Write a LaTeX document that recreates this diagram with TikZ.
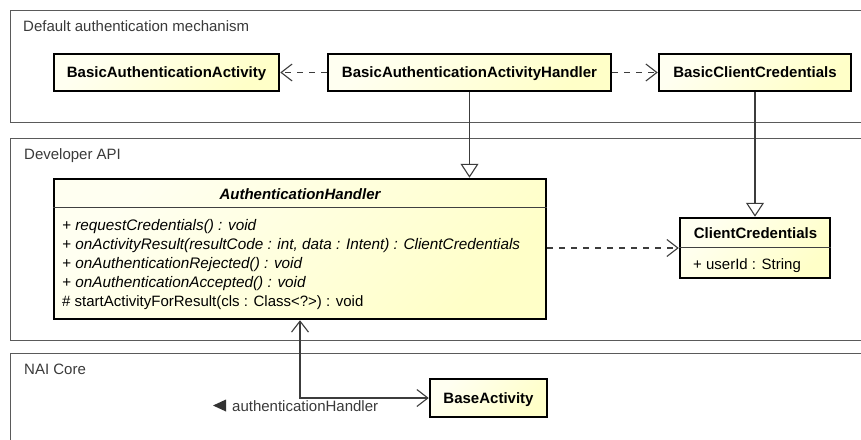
\documentclass[tikz,border=0pt]{standalone}
\usepackage{fontspec}
\setmainfont{Liberation Sans}
\usetikzlibrary{arrows.meta}
\definecolor{classfill}{HTML}{FFFFC8}
\definecolor{pkgline}{HTML}{5A5A5A}
\definecolor{pkgtext}{HTML}{3A3A3A}
\definecolor{wire}{HTML}{3C3C3C}

\begin{document}
\begin{tikzpicture}[x=1pt,y=-1pt,
  font=\fontsize{15}{19}\selectfont,
  cls/.style={rectangle, draw=black, line width=2.5pt,
    top color=classfill!25!white, bottom color=classfill, shading angle=45,
    inner sep=0pt, text height=10.5pt, text depth=0.5pt, font=\fontsize{15}{19}\selectfont\bfseries},
  pkg/.style={draw=pkgline, line width=1pt},
  pkglabel/.style={inner sep=0pt, anchor=base west, text=pkgtext},
  title/.style={inner sep=0pt, anchor=base, font=\fontsize{15}{19}\selectfont\bfseries},
  member/.style={inner sep=0pt, anchor=base west},
  abstractop/.style={member, font=\fontsize{15.3}{19}\selectfont\itshape},
  sep/.style={draw=black!75, line width=1pt},
  dep/.style={draw=wire, line width=1.1pt, dash pattern=on 6pt off 6pt,
    -{Straight Barb[length=11pt,width=17pt,line width=1.1pt]}},
  gen/.style={draw=wire, line width=1.1pt,
    -{Triangle[open,fill=white,length=14pt,width=18pt,line width=1.1pt]}},
  assoc/.style={draw=wire, line width=1.1pt,
    {Straight Barb[length=11pt,width=17pt,line width=1.1pt]}-{Straight Barb[length=11pt,width=17pt,line width=1.1pt]}},
]
\useasboundingbox (0,0) rectangle (861,439);
\clip (0,0) rectangle (861,439);
\fill[white] (0,0) rectangle (861,439);

% packages
\draw[pkg] (10,10) rectangle (880,122);
\node[pkglabel] (pkdefault) at (23,31.5) {Default authentication mechanism};
\draw[pkg] (10,138) rectangle (880,340);
\node[pkglabel] (pkapi) at (24,159.5) {Developer API};
\draw[pkg] (10,353) rectangle (880,460);
\node[pkglabel] (pkcore) at (24,374.5) {NAI Core};

% default authentication classes
\node[cls, minimum width=225pt, minimum height=37pt] (baa) at (166.5,72.5) {BasicAuthenticationActivity};
\node[cls, minimum width=283pt, minimum height=37pt] (baah) at (469.5,72.5) {BasicAuthenticationActivityHandler};
\node[cls, minimum width=192pt, minimum height=37pt] (bcc) at (755,72.5) {BasicClientCredentials};

% AuthenticationHandler
\node[cls, minimum width=492pt, minimum height=140pt] (ah) at (300,249) {};
\draw[sep] (ah.west |- 0,207) -- (ah.east |- 0,207);
\node[title, font=\fontsize{15}{19}\selectfont\bfseries\itshape] (ahname) at (300,199) {AuthenticationHandler};
\node[abstractop] (m1) at (62,230) {+ requestCredentials() : void};
\node[abstractop] (m2) at (62,249.2) {+ onActivityResult(resultCode : int, data : Intent) : ClientCredentials};
\node[abstractop] (m3) at (62,268.4) {+ onAuthenticationRejected() : void};
\node[abstractop] (m4) at (62,287.6) {+ onAuthenticationAccepted() : void};
\node[member] (m5) at (62,306.8) {\# startActivityForResult(cls : Class<?>) : void};

% ClientCredentials
\node[cls, minimum width=150pt, minimum height=60pt] (cc) at (755,248) {};
\draw[sep] (cc.west |- 0,247) -- (cc.east |- 0,247);
\node[title] (ccname) at (755.5,238) {ClientCredentials};
\node[member] (ccattr) at (693,269) {+ userId : String};

% BaseActivity
\node[cls, minimum width=117pt, minimum height=38pt] (ba) at (488.5,398) {BaseActivity};

% relationships
\draw[dep] (baah.west) -- (baa.east);
\draw[dep] (baah.east) -- (bcc.west);
\draw[gen] (baah.south) -- (baah.south |- ah.north);
\draw[gen] (bcc.south) -- (cc.north);
\draw[dep] (ah.east |- cc.west) -- (cc.west);
\draw[assoc] (ba.west) -| (ah.south);

% association end name with its direction marker
\node[member, text=pkgtext] (role) at (232,411) {authenticationHandler};
\fill[black!80] ([xshift=-19pt,yshift=5.5pt]role.base west) -- ([xshift=-6pt,yshift=11.5pt]role.base west) -- ([xshift=-6pt,yshift=-0.5pt]role.base west) -- cycle;
\end{tikzpicture}
\end{document}
